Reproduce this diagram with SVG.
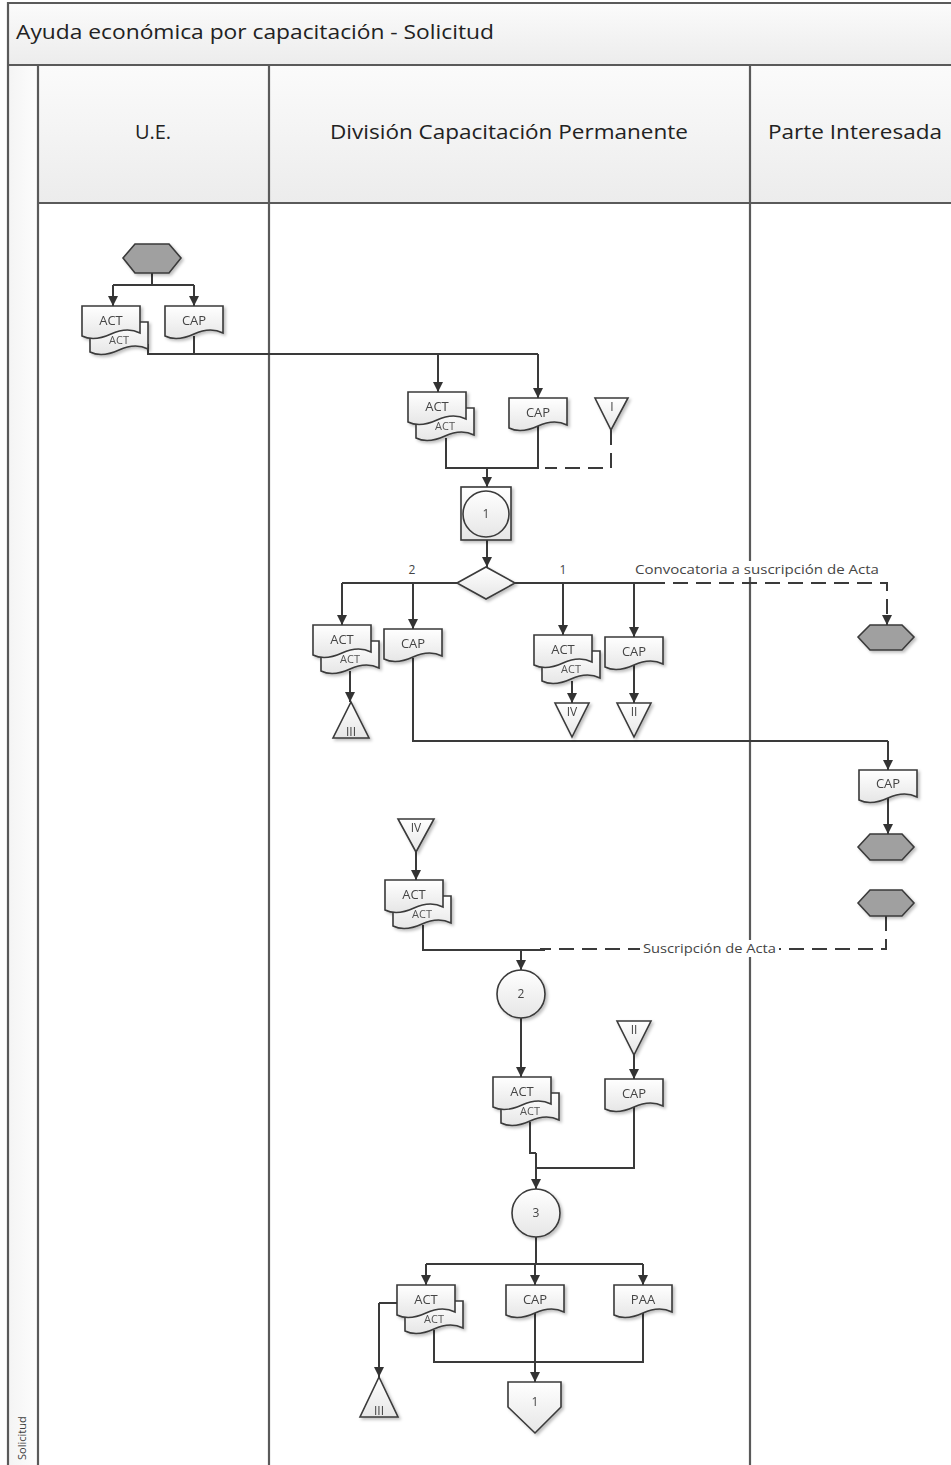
<svg xmlns="http://www.w3.org/2000/svg" xmlns:xlink="http://www.w3.org/1999/xlink" width="951" height="1465" viewBox="0 0 951 1465">
<style>
.lane{stroke:#5a5a5a;stroke-width:2.2;fill:none}
.hdr{font-family:"Open Sans","Noto Sans",sans-serif;font-size:20px;fill:#222}
.doc{fill:url(#gDoc);stroke:#3a3a3a;stroke-width:1.6}
.hex{fill:#a0a0a0;stroke:#3a3a3a;stroke-width:1.6}
.lt{fill:url(#gDoc);stroke:#3a3a3a;stroke-width:1.6}
.t{font-family:"Open Sans","Noto Sans",sans-serif;font-size:13px;fill:#444;text-anchor:middle}
.tk{font-family:"Open Sans","Noto Sans",sans-serif;font-size:11px;fill:#555;text-anchor:middle}
.tb{font-family:"Open Sans","Noto Sans",sans-serif;font-size:12px;fill:#444;text-anchor:middle}
.c{stroke:#3a3a3a;stroke-width:2;fill:none}
.ca{stroke:#3a3a3a;stroke-width:2;fill:none;marker-end:url(#ah)}
.d{stroke:#3a3a3a;stroke-width:2;fill:none;stroke-dasharray:15 8}
.lbl{font-family:"Open Sans","Noto Sans",sans-serif;font-size:12px;fill:#444}
</style>
<defs>
<linearGradient id="gHdr" x1="0" y1="0" x2="0" y2="1"><stop offset="0" stop-color="#fbfbfb"/><stop offset="1" stop-color="#ececec"/></linearGradient>
<linearGradient id="gStrip" x1="0" y1="0" x2="1" y2="0"><stop offset="0" stop-color="#f4f4f4"/><stop offset="1" stop-color="#fdfdfd"/></linearGradient>
<linearGradient id="gDoc" x1="0" y1="0" x2="0" y2="1"><stop offset="0" stop-color="#ffffff"/><stop offset="1" stop-color="#e6e6e6"/></linearGradient>
<filter id="sh" x="-20%" y="-20%" width="150%" height="150%"><feDropShadow dx="2" dy="2" stdDeviation="1.5" flood-color="#000" flood-opacity="0.25"/></filter>
<marker id="ah" viewBox="0 0 10 10" refX="10" refY="5" markerWidth="10" markerHeight="10" orient="auto" markerUnits="userSpaceOnUse"><path d="M0,0 L10,5 L0,10 z" fill="#333"/></marker>
<path id="docp" d="M0,0 H58 V27 C50,23 40,23 29,28 C18,33 8,34 0,30 Z"/>
</defs>

<g id="swimlane">
<rect x="8" y="3" width="943" height="62" fill="url(#gHdr)"/>
<rect x="38" y="65" width="913" height="138" fill="url(#gHdr)"/>
<rect x="8" y="65" width="30" height="1400" fill="url(#gStrip)"/>
<path class="lane" d="M8,1465 V3 H951"/>
<path class="lane" d="M8,65 H951"/>
<path class="lane" d="M38,203 H951"/>
<path class="lane" d="M38,65 V1465 M269,65 V1465 M750,65 V1465"/>
<text class="hdr" x="16" y="39" textLength="478" lengthAdjust="spacingAndGlyphs">Ayuda económica por capacitación - Solicitud</text>
<text class="hdr" x="153" y="139" text-anchor="middle">U.E.</text>
<text class="hdr" x="509" y="139" text-anchor="middle" textLength="358" lengthAdjust="spacingAndGlyphs">División Capacitación Permanente</text>
<text class="hdr" x="855" y="139" text-anchor="middle" textLength="174" lengthAdjust="spacingAndGlyphs">Parte Interesada</text>
<text font-family="Open Sans, Noto Sans, sans-serif" font-size="11" fill="#404040" transform="translate(26,1460) rotate(-90)">Solicitud</text>
</g>

<g id="connectors">
<path class="c" d="M152,273 V285 M113,285 H194"/>
<path class="ca" d="M113,285 V306"/>
<path class="ca" d="M194,285 V306"/>
<path class="c" d="M194,336 V354 M148,344 V354 H538"/>
<path class="ca" d="M438,354 V392"/>
<path class="ca" d="M538,354 V398"/>
<path class="c" d="M446,438 V468 H538 V426"/>
<path class="d" d="M611,430 V468 H545"/>
<path class="ca" d="M487,468 V487"/>
<path class="ca" d="M487,540 V567"/>
<path class="c" d="M457,583 H342"/>
<path class="ca" d="M342,583 V625"/>
<path class="ca" d="M413,583 V629"/>
<path class="c" d="M513,583 H650"/>
<path class="ca" d="M563,583 V635"/>
<path class="ca" d="M634,583 V637"/>
<path class="d" d="M650,583 H887 V625" marker-end="url(#ah)"/>
<path class="ca" d="M350,671 V702"/>
<path class="ca" d="M572,681 V703"/>
<path class="ca" d="M634,664 V703"/>
<path class="c" d="M413,658 V741 H888"/>
<path class="ca" d="M888,741 V770"/>
<path class="ca" d="M888,797 V834"/>
<path class="d" d="M886,916 V949 H540"/>
<path class="ca" d="M416,852 V880"/>
<path class="c" d="M423,925 V950 H545"/>
<path class="ca" d="M521,950 V970"/>
<path class="ca" d="M521,1018 V1077"/>
<path class="ca" d="M634,1055 V1079"/>
<path class="c" d="M530,1122 V1153 H536 M634,1106 V1168 H536"/>
<path class="ca" d="M536,1153 V1189"/>
<path class="c" d="M536,1237 V1264 M426,1264 H643"/>
<path class="ca" d="M426,1264 V1285"/>
<path class="ca" d="M535,1264 V1285"/>
<path class="ca" d="M643,1264 V1285"/>
<path class="c" d="M397,1303 H379"/>
<path class="ca" d="M379,1303 V1377"/>
<path class="c" d="M434,1330 V1362 H643 V1312"/>
<path class="ca" d="M535,1311 V1382"/>
<rect x="633" y="561" width="249" height="16" fill="#fff"/>
<text class="lbl" x="635" y="574" textLength="244" lengthAdjust="spacingAndGlyphs">Convocatoria a suscripción de Acta</text>
<text class="lbl" x="412" y="574" text-anchor="middle">2</text>
<text class="lbl" x="563" y="574" text-anchor="middle">1</text>
<rect x="640" y="940" width="139" height="17" fill="#fff"/>
<text class="lbl" x="643" y="953" textLength="133" lengthAdjust="spacingAndGlyphs">Suscripción de Acta</text>
</g>

<g id="n-start-ue" filter="url(#sh)"><polygon class="hex" points="123,258 135,244 169,244 181,258 169,273 135,273"/></g>
<g id="n-ue-act" filter="url(#sh)">
<use href="#docp" class="doc" transform="translate(90,322)"/><text class="tk" x="119" y="344">ACT</text>
<use href="#docp" class="doc" transform="translate(82,306)"/><text class="t" x="111" y="325">ACT</text>
</g>
<g id="n-ue-cap" filter="url(#sh)"><use href="#docp" class="doc" transform="translate(165,306)"/><text class="t" x="194" y="325">CAP</text></g>

<g id="n-d-act1" filter="url(#sh)">
<use href="#docp" class="doc" transform="translate(416,408)"/><text class="tk" x="445" y="430">ACT</text>
<use href="#docp" class="doc" transform="translate(408,392)"/><text class="t" x="437" y="411">ACT</text>
</g>
<g id="n-d-cap1" filter="url(#sh)"><use href="#docp" class="doc" transform="translate(509,398)"/><text class="t" x="538" y="417">CAP</text></g>
<g id="n-tri-I" filter="url(#sh)"><polygon class="lt" points="595,398 628,398 611,430"/><text class="tb" x="612" y="411">I</text></g>
<g id="n-proc1" filter="url(#sh)"><rect class="lt" x="461" y="487" width="50" height="53"/><circle class="lt" cx="486" cy="514" r="23"/><text class="tb" x="486" y="518">1</text></g>
<g id="n-decision" filter="url(#sh)"><polygon class="lt" points="457,583 486,567 515,583 486,599"/></g>

<g id="n-d-act2" filter="url(#sh)">
<use href="#docp" class="doc" transform="translate(321,641)"/><text class="tk" x="350" y="663">ACT</text>
<use href="#docp" class="doc" transform="translate(313,625)"/><text class="t" x="342" y="644">ACT</text>
</g>
<g id="n-d-cap2" filter="url(#sh)"><use href="#docp" class="doc" transform="translate(384,629)"/><text class="t" x="413" y="648">CAP</text></g>
<g id="n-tri-III-1" filter="url(#sh)"><polygon class="lt" points="333,738 369,738 351,702"/><text class="tb" x="351" y="736" font-size="10">III</text></g>
<g id="n-d-act3" filter="url(#sh)">
<use href="#docp" class="doc" transform="translate(542,651)"/><text class="tk" x="571" y="673">ACT</text>
<use href="#docp" class="doc" transform="translate(534,635)"/><text class="t" x="563" y="654">ACT</text>
</g>
<g id="n-d-cap3" filter="url(#sh)"><use href="#docp" class="doc" transform="translate(605,637)"/><text class="t" x="634" y="656">CAP</text></g>
<g id="n-tri-IV-1" filter="url(#sh)"><polygon class="lt" points="555,703 589,703 572,737"/><text class="tb" x="572" y="716" font-size="10">IV</text></g>
<g id="n-tri-II-1" filter="url(#sh)"><polygon class="lt" points="617,703 651,703 634,737"/><text class="tb" x="634" y="716" font-size="10">II</text></g>

<g id="n-pi-hex1" filter="url(#sh)"><polygon class="hex" points="858,637 870,625 902,625 914,637 902,650 870,650"/></g>
<g id="n-pi-cap" filter="url(#sh)"><use href="#docp" class="doc" transform="translate(859,770)"/><text class="t" x="888" y="788">CAP</text></g>
<g id="n-pi-hex2" filter="url(#sh)"><polygon class="hex" points="858,847 870,834 902,834 914,847 902,860 870,860"/></g>
<g id="n-pi-hex3" filter="url(#sh)"><polygon class="hex" points="858,903 870,890 902,890 914,903 902,916 870,916"/></g>

<g id="n-tri-IV-2" filter="url(#sh)"><polygon class="lt" points="398,819 434,819 416,852"/><text class="tb" x="416" y="832" font-size="10">IV</text></g>
<g id="n-d-act4" filter="url(#sh)">
<use href="#docp" class="doc" transform="translate(393,896)"/><text class="tk" x="422" y="918">ACT</text>
<use href="#docp" class="doc" transform="translate(385,880)"/><text class="t" x="414" y="899">ACT</text>
</g>
<g id="n-proc2" filter="url(#sh)"><circle class="lt" cx="521" cy="994" r="24"/><text class="tb" x="521" y="998">2</text></g>
<g id="n-d-act5" filter="url(#sh)">
<use href="#docp" class="doc" transform="translate(501,1093)"/><text class="tk" x="530" y="1115">ACT</text>
<use href="#docp" class="doc" transform="translate(493,1077)"/><text class="t" x="522" y="1096">ACT</text>
</g>
<g id="n-tri-II-2" filter="url(#sh)"><polygon class="lt" points="617,1021 651,1021 634,1055"/><text class="tb" x="634" y="1034" font-size="10">II</text></g>
<g id="n-d-cap5" filter="url(#sh)"><use href="#docp" class="doc" transform="translate(605,1079)"/><text class="t" x="634" y="1098">CAP</text></g>
<g id="n-proc3" filter="url(#sh)"><circle class="lt" cx="536" cy="1213" r="24"/><text class="tb" x="536" y="1217">3</text></g>

<g id="n-d-act6" filter="url(#sh)">
<use href="#docp" class="doc" transform="translate(405,1301)"/><text class="tk" x="434" y="1323">ACT</text>
<use href="#docp" class="doc" transform="translate(397,1285)"/><text class="t" x="426" y="1304">ACT</text>
</g>
<g id="n-d-cap6" filter="url(#sh)"><use href="#docp" class="doc" transform="translate(506,1285)"/><text class="t" x="535" y="1304">CAP</text></g>
<g id="n-d-paa" filter="url(#sh)"><use href="#docp" class="doc" transform="translate(614,1285)"/><text class="t" x="643" y="1304">PAA</text></g>
<g id="n-tri-III-2" filter="url(#sh)"><polygon class="lt" points="360,1417 398,1417 379,1377"/><text class="tb" x="379" y="1415" font-size="10">III</text></g>
<g id="n-offpage1" filter="url(#sh)"><polygon class="lt" points="508,1382 561,1382 561,1407 535,1433 508,1407"/><text class="tb" x="535" y="1406">1</text></g>
</svg>
